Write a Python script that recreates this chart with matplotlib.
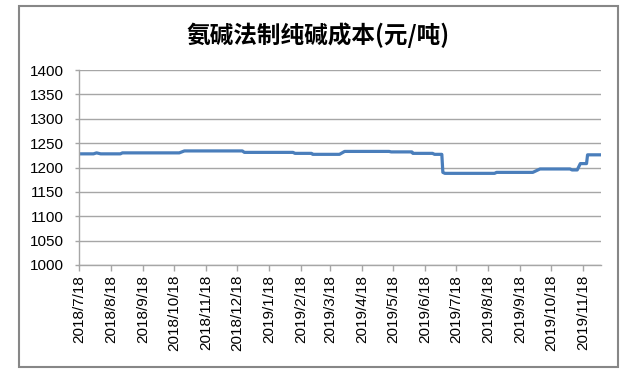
"""Ammonia-soda process soda ash cost line chart."""

import matplotlib
matplotlib.use("Agg")
import matplotlib.pyplot as plt
from matplotlib.patches import Rectangle
import numpy as np

plt.rcParams["font.family"] = ["Liberation Sans", "Noto Sans CJK SC", "DejaVu Sans"]

# change points of the cost series (date, yuan/ton)
dates = [
    "2018-07-18", "2018-08-01", "2018-08-04", "2018-08-08", "2018-08-27",
    "2018-08-29", "2018-10-23", "2018-10-28", "2018-12-23", "2018-12-25",
    "2019-02-10", "2019-02-12", "2019-02-28", "2019-03-01", "2019-03-27",
    "2019-04-01", "2019-05-14", "2019-05-16", "2019-06-05", "2019-06-06",
    "2019-06-25", "2019-06-27", "2019-07-04", "2019-07-05", "2019-07-07",
    "2019-08-24", "2019-08-26", "2019-09-30", "2019-10-07", "2019-11-05",
    "2019-11-07", "2019-11-12", "2019-11-15", "2019-11-21", "2019-11-22",
    "2019-12-05",
]
costs = [
    1228, 1228, 1230, 1228, 1228,
    1230, 1230, 1234, 1234, 1231,
    1231, 1229, 1229, 1227, 1227,
    1233, 1233, 1232, 1232, 1229,
    1229, 1227, 1227, 1190, 1188,
    1188, 1190, 1190, 1197, 1197,
    1195, 1195, 1208, 1208, 1226,
    1226,
]
tick_dates = [
    "2018-07-18", "2018-08-18", "2018-09-18", "2018-10-18", "2018-11-18",
    "2018-12-18", "2019-01-18", "2019-02-18", "2019-03-18", "2019-04-18",
    "2019-05-18", "2019-06-18", "2019-07-18", "2019-08-18", "2019-09-18",
    "2019-10-18", "2019-11-18",
]
title = "氨碱法制纯碱成本(元/吨)"

x = np.array(dates, dtype="datetime64[D]").astype("O")
ticks = np.array(tick_dates, dtype="datetime64[D]").astype("O")

fig = plt.figure(figsize=(6.41, 3.73), dpi=100)
ax = fig.add_axes([79 / 641, 1 - 265 / 373, (601 - 79) / 641, (265 - 70) / 373])

ax.plot(x, costs, color="#4A7EBB", linewidth=2.3, solid_joinstyle="round")

ax.set_ylim(1000, 1400)
ax.set_yticks(range(1000, 1401, 50))
ax.set_xlim(x[0], x[-1])
ax.set_xticks(ticks)
ax.set_xticklabels([f"{d.year}/{d.month}/{d.day}" for d in ticks], rotation=90)

ax.grid(axis="y", color="#A6A6A6", linewidth=1.0)
ax.set_axisbelow(True)
for side in ("top", "right"):
    ax.spines[side].set_visible(False)
for side in ("left", "bottom"):
    ax.spines[side].set_color("#A6A6A6")
    ax.spines[side].set_linewidth(1.0)
ax.tick_params(axis="both", colors="#A6A6A6", labelcolor="black", labelsize=11,
               width=1.0)
ax.tick_params(axis="x", length=4, pad=3)
ax.tick_params(axis="y", length=3, pad=8)

fig.text(318 / 641, 1 - 35 / 373, title, ha="center", va="center",
         fontsize=17, fontweight="bold", family=["Noto Sans CJK SC", "DejaVu Sans"])

# outer chart border
fig.patches.append(Rectangle((19 / 641, 1 - 367 / 373), (618 - 19) / 641, (367 - 6) / 373,
                             transform=fig.transFigure, fill=False,
                             edgecolor="#878787", linewidth=1.5))

fig.savefig("out.png", dpi=100, facecolor="white")
plt.close(fig)
